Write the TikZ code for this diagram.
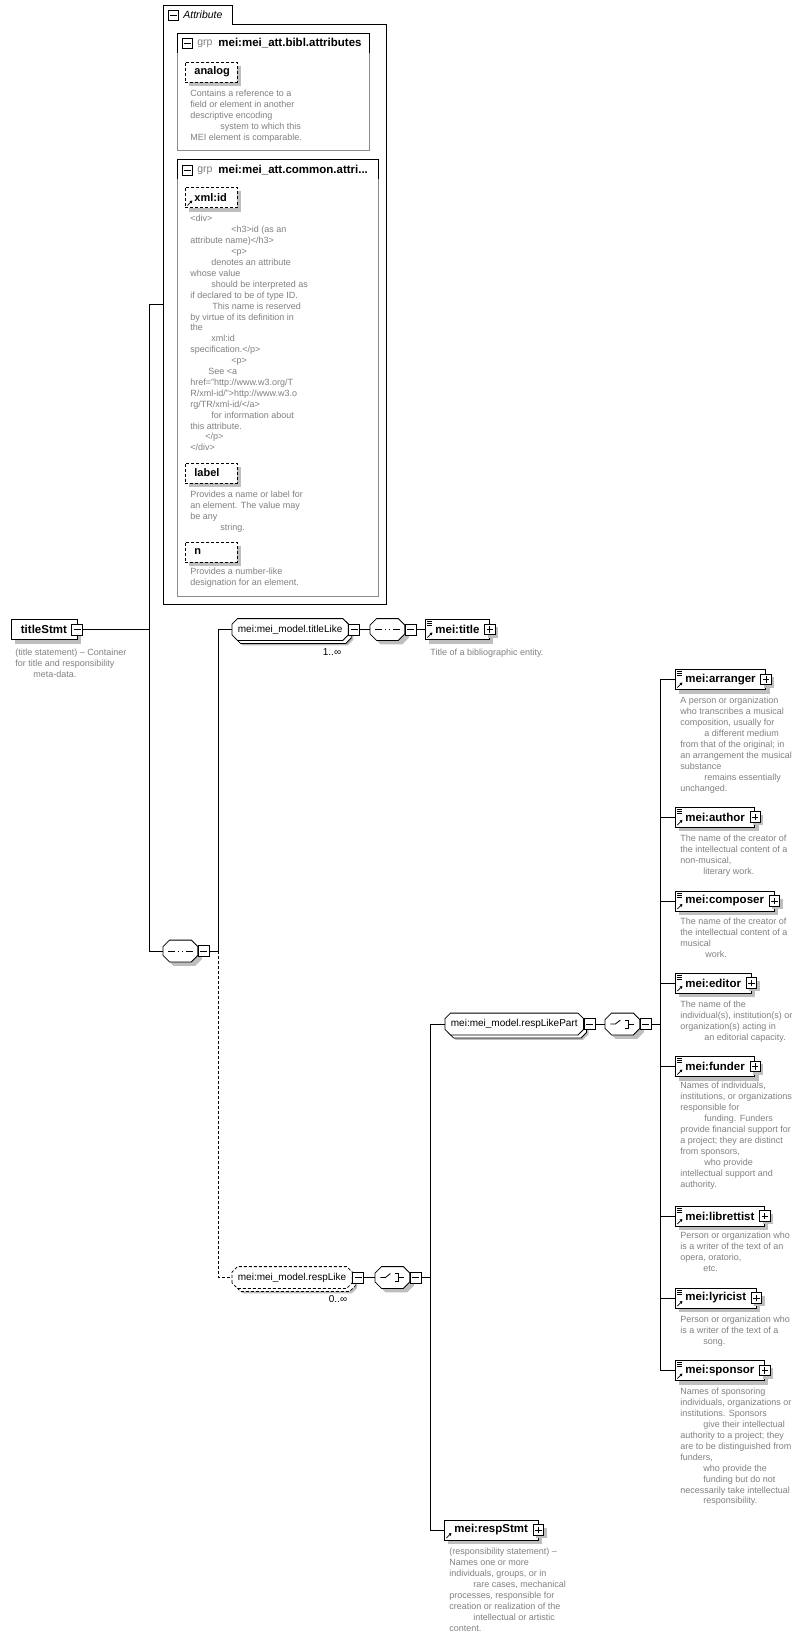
\documentclass[tikz,border=0pt]{standalone}
\usepackage{fontspec}
\setmainfont{Liberation Sans}
\usetikzlibrary{shadows, arrows.meta, positioning}
\definecolor{descgray}{RGB}{128, 128, 128}
\definecolor{shadowgray}{RGB}{190, 190, 190}
\definecolor{grpgray}{RGB}{140, 140, 140}
\newcommand{\descfont}{\fontsize{9}{10.9}\selectfont}
\newcommand{\elemfont}{\fontsize{11.5}{13}\selectfont\bfseries}
\newcommand{\modelfont}{\fontsize{10}{12}\selectfont}
\newcommand{\padl}[1]{\hspace*{#1pt}}

% octagonal box for model groups and compositors
\makeatletter
\newdimen\octL \newdimen\octR \newdimen\octB \newdimen\octT \newdimen\octC
\def\octocut{6pt}
\pgfdeclareshape{octobox}{%
  \inheritsavedanchors[from=rectangle]%
  \inheritanchorborder[from=rectangle]%
  \inheritanchor[from=rectangle]{center}%
  \inheritanchor[from=rectangle]{text}%
  \inheritanchor[from=rectangle]{base}%
  \inheritanchor[from=rectangle]{mid}%
  \inheritanchor[from=rectangle]{north}%
  \inheritanchor[from=rectangle]{south}%
  \inheritanchor[from=rectangle]{east}%
  \inheritanchor[from=rectangle]{west}%
  \backgroundpath{%
    \southwest \octL=\pgf@x \octB=\pgf@y
    \northeast \octR=\pgf@x \octT=\pgf@y
    \octC=\octocut\relax
    \pgfpathmoveto{\pgfqpoint{\octL}{\dimexpr\octB+\octC\relax}}%
    \pgfpathlineto{\pgfqpoint{\octL}{\dimexpr\octT-\octC\relax}}%
    \pgfpathlineto{\pgfqpoint{\dimexpr\octL+\octC\relax}{\octT}}%
    \pgfpathlineto{\pgfqpoint{\dimexpr\octR-\octC\relax}{\octT}}%
    \pgfpathlineto{\pgfqpoint{\octR}{\dimexpr\octT-\octC\relax}}%
    \pgfpathlineto{\pgfqpoint{\octR}{\dimexpr\octB+\octC\relax}}%
    \pgfpathlineto{\pgfqpoint{\dimexpr\octR-\octC\relax}{\octB}}%
    \pgfpathlineto{\pgfqpoint{\dimexpr\octL+\octC\relax}{\octB}}%
    \pgfpathclose
  }%
}
\makeatother

\begin{document}
\begin{tikzpicture}[x=1pt, y=-1pt, line width=0.8pt,
    octocut/.code={\def\octocut{#1}},
    elem/.style={rectangle, draw, fill=white, minimum height=20pt, inner xsep=10pt, inner ysep=0pt, font=\elemfont, drop shadow={shadow xshift=4pt, shadow yshift=-4pt, fill=shadowgray, opacity=1}},
    elemref/.style={elem, path picture={\draw[solid, line width=0.7pt, -{Triangle[length=2.5pt, width=3pt]}] ([xshift=2pt, yshift=2pt]path picture bounding box.south west) -- ++(5pt,5pt);}},
    elemtxt/.style={elem, path picture={
        \foreach \dd in {2,4,6} \draw[line width=0.6pt] ([xshift=2pt, yshift=-\dd pt]path picture bounding box.north west) -- ++(5pt,0pt);
        \draw[line width=0.7pt, -{Triangle[length=2.5pt, width=3pt]}] ([xshift=2pt, yshift=2pt]path picture bounding box.south west) -- ++(5pt,5pt);}},
    attr/.style={rectangle, draw, dash pattern=on 3pt off 2pt, fill=white, minimum height=20pt, text width=34pt, align=left, inner xsep=9pt, inner ysep=0pt, font=\fontsize{11}{13}\selectfont\bfseries, drop shadow={shadow xshift=4pt, shadow yshift=-4pt, fill=shadowgray, opacity=1}},
    attrref/.style={attr, path picture={\draw[solid, line width=0.7pt, -{Triangle[length=2.5pt, width=3pt]}] ([xshift=2pt, yshift=2pt]path picture bounding box.south west) -- ++(5pt,5pt);}},
    model/.style={shape=octobox, octocut=5.5pt, draw, fill=white, minimum height=21pt, inner xsep=5.5pt, inner ysep=0pt, font=\modelfont, general shadow={shadow xshift=5pt, shadow yshift=-5pt, fill=shadowgray}, general shadow={shadow xshift=3pt, shadow yshift=-3pt, draw, fill=white}},
    compositor/.style={shape=octobox, octocut=6.5pt, draw, fill=white, minimum width=34pt, minimum height=21pt, inner sep=0pt, drop shadow={shadow xshift=4pt, shadow yshift=-4pt, fill=shadowgray, opacity=1}},
    seqbox/.style={compositor, path picture={
        \draw ([xshift=-12pt]path picture bounding box.center) -- ([xshift=13pt]path picture bounding box.center);
        \foreach \dd in {-5.8,-1.5,2.8} \fill ([xshift=\dd pt, yshift=-1.5pt]path picture bounding box.center) rectangle ++(3pt,3pt);}},
    choicebox/.style={compositor, path picture={
        \draw ([xshift=-12pt]path picture bounding box.center) -- ([xshift=-7pt]path picture bounding box.center) -- ([xshift=-2pt, yshift=4pt]path picture bounding box.center);
        \foreach \dd in {-5.5,-1.5,2.5} \fill ([xshift=-0.5pt, yshift=\dd pt]path picture bounding box.center) rectangle ++(3pt,3pt);
        \draw ([xshift=2.5pt, yshift=4pt]path picture bounding box.center) -- ([xshift=6pt, yshift=4pt]path picture bounding box.center) -- ([xshift=6pt, yshift=-4pt]path picture bounding box.center) -- ([xshift=2.5pt, yshift=-4pt]path picture bounding box.center);
        \draw ([xshift=6pt]path picture bounding box.center) -- ([xshift=12pt]path picture bounding box.center);}},
    minusbox/.style={rectangle, draw, fill=white, minimum size=11pt, inner sep=0pt, path picture={\draw ([xshift=2pt]path picture bounding box.west) -- ([xshift=-2pt]path picture bounding box.east);}},
    plusbox/.style={minusbox, minimum size=10.5pt, drop shadow={shadow xshift=3pt, shadow yshift=-3pt, fill=shadowgray, opacity=1}, path picture={\draw ([xshift=2pt]path picture bounding box.west) -- ([xshift=-2pt]path picture bounding box.east) ([yshift=2pt]path picture bounding box.south) -- ([yshift=-2pt]path picture bounding box.north);}},
    hdrminus/.style={minusbox, line width=0.6pt, minimum size=10.5pt},
    desc/.style={anchor=north west, inner sep=0pt, align=left, font=\descfont, text=descgray},
    occ/.style={font=\modelfont, inner sep=0pt},
]
\useasboundingbox (0,0) rectangle (808,1640);

% Attribute box
\draw[fill=white] (163,604) -- (163,5) -- (232,5) -- (232,24) -- (386,24) -- (386,604) -- cycle;
\coordinate (attrin) at (163,304);
\node[hdrminus] (attrm) at (173.5,15.5) {};
\node[font=\fontsize{10.5}{12}\selectfont\itshape, anchor=west, inner sep=0pt] (attrlabel) at (183,15) {Attribute};

% grp mei:mei_att.bibl.attributes
\draw[draw=grpgray] (177,33) rectangle (369,150);
\draw (177,53) |- (369,33) -- (369,53);
\node[hdrminus] (biblm) at (187.5,43.5) {};
\node[font=\fontsize{10.5}{12}\selectfont, text=descgray, anchor=west, inner sep=0pt] (biblgrp) at (197,43.5) {grp};
\node[font=\elemfont, anchor=west, inner sep=0pt] (biblname) at (218,43.5) {mei:mei\_att.bibl.attributes};
\node[attr, anchor=west] (analog) at (185,72) {analog};
\node[desc] (analogdesc) at (190,90) {Contains a reference to a\\field or element in another\\descriptive encoding\\\padl{30}system to which this\\MEI element is comparable.};

% grp mei:mei_att.common.attributes
\draw[draw=grpgray] (177,159) rectangle (378,596);
\draw (177,179) |- (378,159) -- (378,179);
\node[hdrminus] (commonm) at (187.5,170.5) {};
\node[font=\fontsize{10.5}{12}\selectfont, text=descgray, anchor=west, inner sep=0pt] (commongrp) at (197,170.5) {grp};
\node[font=\elemfont, anchor=west, inner sep=0pt] (commonname) at (218,170.5) {mei:mei\_att.common.attri...};
\node[attrref, anchor=west] (xmlid) at (185,197.5) {xml:id};
\node[desc] (xmliddesc) at (190,215) {<div>\\\padl{41}<h3>id (as an\\attribute name)</h3>\\\padl{41}<p>\\\padl{21}denotes an attribute\\whose value\\\padl{21}should be interpreted as\\if declared to be of type ID.\\\padl{22}This name is reserved\\by virtue of its definition in\\the\\\padl{21}xml:id\\specification.</p>\\\padl{41}<p>\\\padl{18}See <a\\href="http://www.w3.org/T\\R/xml-id/">http://www.w3.o\\rg/TR/xml-id/</a>\\\padl{21}for information about\\this attribute.\\\padl{15}</p>\\</div>};
\node[attr, anchor=west] (label) at (185,473) {label};
\node[desc] (labeldesc) at (190,491) {Provides a name or label for\\an element. The value may\\be any\\\padl{30}string.};
\node[attr, anchor=west] (n) at (185,552) {n};
\node[desc] (ndesc) at (190,568) {Provides a number-like\\designation for an element.};

% Root element
\node[elem, anchor=west] (titlestmt) at (10.5,629.5) {titleStmt};
\node[minusbox] (titlestmtm) at (titlestmt.east) {};
\node[desc] (titlestmtdesc) at (15,649) {(title statement) – Container\\for title and responsibility\\\padl{18}meta-data.};

% Top sequence
\node[seqbox, anchor=west] (seqtop) at (163,951) {};
\node[minusbox, anchor=west] (seqtopm) at (seqtop.east) {};

% Title branch
\node[model, anchor=west] (titlelike) at (232,629.5) {mei:mei\_model.titleLike};
\node[minusbox, anchor=west] (titlelikem) at (titlelike.east) {};
\node[occ] (titlelikeocc) at (332,652) {1..∞};
\node[seqbox, anchor=west] (seqtitle) at (370,629.5) {};
\node[minusbox, anchor=west] (seqtitlem) at (seqtitle.east) {};
\node[elemtxt, anchor=west] (title) at (425,629.5) {mei:title};
\node[plusbox] (titlep) at (title.east) {};
\node[desc] (titledesc) at (430,649) {Title of a bibliographic entity.};

% Resp branch
\node[model, dash pattern=on 3pt off 2pt, anchor=west] (resplike) at (232,1277.5) {mei:mei\_model.respLike};
\node[minusbox, anchor=west] (resplikem) at (resplike.east) {};
\node[occ] (resplikeocc) at (338,1299) {0..∞};
\node[choicebox, anchor=west] (choiceresp) at (375,1277.5) {};
\node[minusbox, anchor=west] (choicerespm) at (choiceresp.east) {};
\node[model, anchor=west] (resppart) at (445,1024) {mei:mei\_model.respLikePart};
\node[minusbox, anchor=west] (resppartm) at (resppart.east) {};
\node[choicebox, anchor=west] (choicepart) at (605,1024) {};
\node[minusbox, anchor=west] (choicepartm) at (choicepart.east) {};
\node[elemref, anchor=west] (respstmt) at (444,1530) {mei:respStmt};
\node[plusbox] (respstmtp) at (respstmt.east) {};
\node[desc] (respstmtdesc) at (449,1548) {(responsibility statement) –\\Names one or more\\individuals, groups, or in\\\padl{24}rare cases, mechanical\\processes, responsible for\\creation or realization of the\\\padl{24}intellectual or artistic\\content.};

% Resp elements
\node[elemtxt, anchor=west] (arranger) at (675,679.5) {mei:arranger};
\node[desc] (arrangerdesc) at (680,697) {A person or organization\\who transcribes a musical\\composition, usually for\\\padl{24}a different medium\\from that of the original; in\\an arrangement the musical\\substance\\\padl{24}remains essentially\\unchanged.};
\node[elemtxt, anchor=west] (author) at (675,817) {mei:author};
\node[desc] (authordesc) at (680,835) {The name of the creator of\\the intellectual content of a\\non-musical,\\\padl{23}literary work.};
\node[elemtxt, anchor=west] (composer) at (675,901) {mei:composer};
\node[desc] (composerdesc) at (680,918) {The name of the creator of\\the intellectual content of a\\musical\\\padl{25}work.};
\node[elemtxt, anchor=west] (editor) at (675,983) {mei:editor};
\node[desc] (editordesc) at (680,1001) {The name of the\\individual(s), institution(s) or\\organization(s) acting in\\\padl{24}an editorial capacity.};
\node[elemtxt, anchor=west] (funder) at (675,1066.5) {mei:funder};
\node[desc] (funderdesc) at (680,1082) {Names of individuals,\\institutions, or organizations\\responsible for\\\padl{24}funding. Funders\\provide financial support for\\a project; they are distinct\\from sponsors,\\\padl{24}who provide\\intellectual support and\\authority.};
\node[elemtxt, anchor=west] (librettist) at (675,1216) {mei:librettist};
\node[desc] (librettistdesc) at (680,1232) {Person or organization who\\is a writer of the text of an\\opera, oratorio,\\\padl{23}etc.};
\node[elemtxt, anchor=west] (lyricist) at (675,1298) {mei:lyricist};
\node[desc] (lyricistdesc) at (680,1316) {Person or organization who\\is a writer of the text of a\\\padl{23}song.};
\node[elemtxt, anchor=west] (sponsor) at (675,1370.5) {mei:sponsor};
\node[desc] (sponsordesc) at (680,1388) {Names of sponsoring\\individuals, organizations or\\institutions. Sponsors\\\padl{23}give their intellectual\\authority to a project; they\\are to be distinguished from\\funders,\\\padl{23}who provide the\\\padl{23}funding but do not\\necessarily take intellectual\\\padl{23}responsibility.};
\foreach \e in {arranger, author, composer, editor, funder, librettist, lyricist, sponsor}
    \node[plusbox] (\e-plus) at (\e.east) {};

% Connectors
\coordinate (trunk) at (149,0);
\draw (titlestmtm.east) -- (titlestmtm.east -| trunk);
\draw (attrin) -- (attrin -| trunk) |- (seqtop.west);
\draw (seqtopm.east) -- ++(9,0) coordinate (bus1);
\draw (bus1) |- (titlelike.west);
\draw[dash pattern=on 3pt off 2pt] (bus1) |- (resplike.west);
\draw (titlelikem.east) -- (seqtitle.west);
\draw (seqtitlem.east) -- (title.west);
\draw (resplikem.east) -- (choiceresp.west);
\draw (choicerespm.east) -- ++(9,0) coordinate (bus2);
\draw (bus2) |- (resppart.west);
\draw (bus2) |- (respstmt.west);
\draw (resppartm.east) -- (choicepart.west);
\draw (choicepartm.east) -- ++(9,0) coordinate (bus3);
\foreach \e in {arranger, author, composer, editor, funder, librettist, lyricist, sponsor}
    \draw (bus3) |- (\e.west);

\end{tikzpicture}
\end{document}
